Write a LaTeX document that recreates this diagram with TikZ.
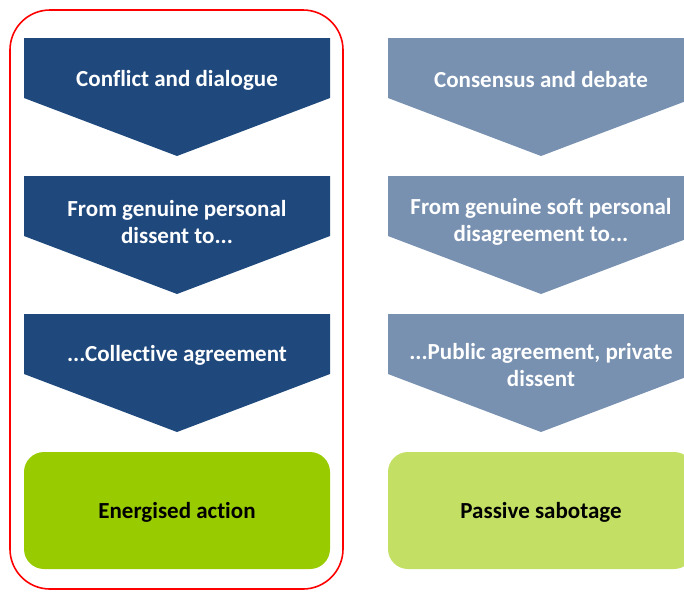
\documentclass[tikz,border=0pt]{standalone}
\usepackage{fontspec}
\setmainfont{Carlito}[Ligatures=NoCommon]
\usepackage{tikz}

\definecolor{darkblue}{HTML}{1F497D}
\definecolor{paleblue}{HTML}{7891B1}
\definecolor{darkgreen}{HTML}{99CC00}
\definecolor{palegreen}{HTML}{C3E064}

% one downward chevron, top-left corner at (#1,#2)
\newcommand{\chev}[3]{%
  \fill[#3] (#1,#2) -- ++(306,0) -- ++(0,60) -- ++(-153,58) -- ++(-153,-58) -- cycle;}

\begin{document}
\begin{tikzpicture}
[
x=1pt, y=-1pt,
every node/.style={font=\bfseries\fontsize{23}{27}\selectfont, align=center, inner sep=0pt},
chevtext/.style={text=white},
boxtext/.style={text=black}
]
\useasboundingbox (0,0) rectangle (684,592);

% red frame round the left column
\draw[red, line width=1.6pt, rounded corners=40pt] (10,10) rectangle (343,589);

% left column
\chev{24}{38}{darkblue}
\chev{24}{176}{darkblue}
\chev{24}{314}{darkblue}
\fill[darkgreen, rounded corners=20pt] (24,452) rectangle (330,569);

\node[chevtext] (conflict) at (177,80) {Conflict and dialogue};
\node[chevtext] (dissent) at (177,222) {From genuine personal\\dissent to...};
\node[chevtext] (collective) at (177,355) {...Collective agreement};
\node[boxtext] (energised) at (177,512) {Energised action};

% right column
\chev{388}{38}{paleblue}
\chev{388}{176}{paleblue}
\chev{388}{314}{paleblue}
\fill[palegreen, rounded corners=20pt] (388,452) rectangle (694,569);

\node[chevtext] (consensus) at (541,80) {Consensus and debate};
\node[chevtext] (disagree) at (541,222) {From genuine soft personal\\disagreement to...};
\node[chevtext] (public) at (541,365) {...Public agreement, private\\dissent};
\node[boxtext] (sabotage) at (541,512) {Passive sabotage};
\end{tikzpicture}
\end{document}
